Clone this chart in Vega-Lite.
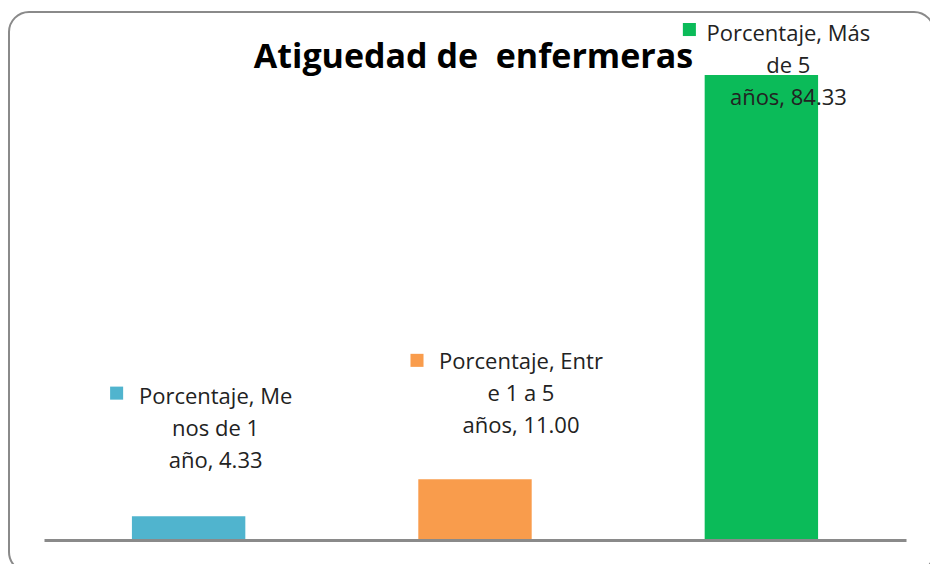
{
  "$schema": "https://vega.github.io/schema/vega-lite/v6.json",
  "width": 925,
  "height": 560,
  "autosize": {"type": "none"},
  "padding": {"left": 9, "top": 12, "right": -4, "bottom": -8},
  "background": "white",
  "title": {
    "text": "Atiguedad de \u00a0enfermeras",
    "font": "Open Sans",
    "fontSize": 34,
    "fontWeight": "bold",
    "color": "#000000",
    "anchor": "middle",
    "baseline": "alphabetic",
    "offset": -90,
    "dx": 2
  },
  "config": {
    "view": {"stroke": "#8a8a8a", "strokeWidth": 2, "cornerRadius": 20},
    "text": {"font": "Open Sans", "fontSize": 22, "color": "#222222", "lineHeight": 32, "lineBreak": "\n", "align": "center", "baseline": "middle"}
  },
  "data": {
    "values": [
      {"cat": "Menos de 1 año", "Porcentaje": 4.33, "label": "Porcentaje, Me\nnos de 1\naño, 4.33"},
      {"cat": "Entre 1 a 5 años", "Porcentaje": 11.0, "label": "Porcentaje, Entr\ne 1 a 5\naños, 11.00"},
      {"cat": "Más de 5 años", "Porcentaje": 84.33, "label": "Porcentaje, Más\nde 5\naños, 84.33"}
    ]
  },
  "encoding": {
    "x": {
      "field": "cat",
      "type": "nominal",
      "sort": null,
      "scale": {"range": [35, 897], "paddingInner": 0.604, "paddingOuter": 0.307},
      "axis": {"domainColor": "#8a8a8a", "domainWidth": 3, "ticks": false, "labels": false, "title": null, "offset": -32, "zindex": 1}
    },
    "y": {
      "field": "Porcentaje",
      "type": "quantitative",
      "scale": {"domain": [0, 95.76], "range": [528, 0], "nice": false},
      "axis": null
    },
    "color": {
      "field": "cat",
      "type": "nominal",
      "scale": {"domain": ["Menos de 1 año", "Entre 1 a 5 años", "Más de 5 años"], "range": ["#50B4CE", "#F99C4C", "#0BBB59"]},
      "legend": null
    }
  },
  "layer": [
    {"mark": {"type": "bar", "opacity": 1}},
    {
      "transform": [{"filter": "datum.cat === 'Menos de 1 año'"}],
      "layer": [
        {"mark": {"type": "text", "dx": 27, "dy": -119}, "encoding": {"text": {"field": "label"}, "color": {"value": "#222222"}}},
        {"mark": {"type": "square", "size": 170, "opacity": 1, "xOffset": -72, "yOffset": -123}}
      ]
    },
    {
      "transform": [{"filter": "datum.cat === 'Entre 1 a 5 años'"}],
      "layer": [
        {"mark": {"type": "text", "dx": 46, "dy": -117}, "encoding": {"text": {"field": "label"}, "color": {"value": "#222222"}}},
        {"mark": {"type": "square", "size": 170, "opacity": 1, "xOffset": -58, "yOffset": -119}}
      ]
    },
    {
      "transform": [{"filter": "datum.cat === 'Más de 5 años'"}],
      "layer": [
        {"mark": {"type": "text", "dx": 27, "dy": -41}, "encoding": {"text": {"field": "label"}, "color": {"value": "#222222"}}},
        {"mark": {"type": "square", "size": 170, "opacity": 1, "xOffset": -72, "yOffset": -45.5}}
      ]
    }
  ]
}
